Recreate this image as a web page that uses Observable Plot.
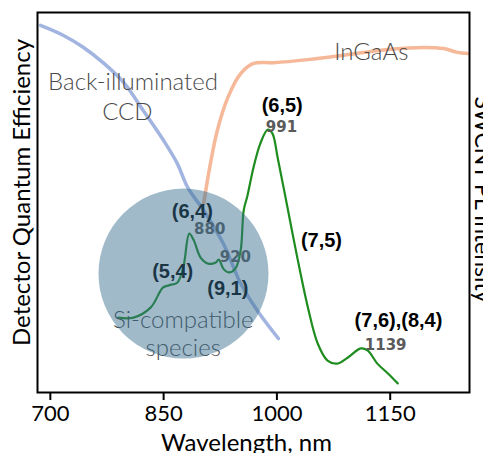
<!DOCTYPE html>
<html>
<head>
<meta charset="utf-8">
<script src="https://cdn.jsdelivr.net/npm/d3@7"></script>
<script src="https://cdn.jsdelivr.net/npm/@observablehq/plot@0.6"></script>
<style>
  html, body { margin: 0; padding: 0; background: white; }
</style>
</head>
<body>
<div id="chart"></div>
<script>
// Wavelength ticks
const xTicks = [700, 850, 1000, 1150];

// Back-illuminated CCD quantum efficiency (relative units)
const ccdWl  = [687, 718, 744, 771, 797, 823, 850, 868, 882, 903, 929, 952, 974, 1002];
const ccdQE  = [96.6, 93.9, 90.8, 86.6, 81.6, 74.2, 66.3, 60.3, 53.9, 47.9, 39.2, 28.7, 21.6, 14.2];

// InGaAs quantum efficiency
const ingaasWl = [903, 912, 921, 935, 952, 969, 996, 1041, 1075, 1115, 1150, 1194, 1221, 1239, 1252];
const ingaasQE = [49.7, 60.3, 68.9, 77.6, 83.9, 86.6, 86.8, 87.6, 88.4, 89.5, 90.3, 90.8, 90.5, 89.5, 89.2];

// SWCNT PL intensity
const plWl  = [790, 810, 833, 849, 857, 868, 876, 884, 890, 899, 909, 919, 923, 929, 936, 945, 952, 956, 961, 969, 978, 988, 994, 1001, 1014, 1027, 1041, 1054, 1067, 1080, 1094, 1111, 1120, 1133, 1147, 1160];
const plInt = [19.7, 19.7, 22.4, 27.6, 28.2, 28.9, 32.9, 41.8, 40.0, 35.5, 33.9, 34.2, 35.0, 32.6, 31.6, 32.6, 37.4, 47.9, 51.8, 59.2, 65.5, 69.2, 68.2, 61.8, 48.7, 35.5, 22.4, 12.9, 8.4, 7.6, 9.2, 11.6, 11.1, 7.6, 5.0, 2.4];

// Chirality labels
const chiralText = ["(6,4)", "(5,4)", "(9,1)", "(6,5)", "(7,5)", "(7,6),(8,4)"];
const chiralWl   = [888, 862, 935, 1007, 1059, 1161];
const chiralY    = [47.6, 31.8, 27.4, 75.5, 40.0, 18.9];

// Peak wavelength labels
const peakText = ["880", "920", "991", "1139"];
const peakWl   = [911, 945, 1006, 1144];
const peakY    = [42.9, 35.5, 69.7, 12.4];

// Detector labels
const detText = ["Back-illuminated", "CCD", "InGaAs", "Si-compatible", "species"];
const detWl   = [809.5, 802, 1125, 876, 876];
const detY    = [81.6, 73.7, 89.5, 18.9, 11.6];

// Highlight circle (Si-compatible region)
const circleWl = [876.3];
const circleY  = [31.3];

const ccd = ccdWl.map((w, i) => ({w, v: ccdQE[i]}));
const ingaas = ingaasWl.map((w, i) => ({w, v: ingaasQE[i]}));
const pl = plWl.map((w, i) => ({w, v: plInt[i]}));
const chiral = chiralText.map((t, i) => ({t, w: chiralWl[i], v: chiralY[i]}));
const peaks = peakText.map((t, i) => ({t, w: peakWl[i], v: peakY[i]}));
const dets = detText.map((t, i) => ({t, w: detWl[i], v: detY[i]}));
const circ = circleWl.map((w, i) => ({w, v: circleY[i]}));

const chart = Plot.plot({
  width: 483,
  height: 453,
  marginLeft: 37,
  marginRight: 14,
  marginTop: 12,
  marginBottom: 61,
  style: {fontFamily: "Lato", background: "white", color: "black"},
  x: {domain: [683, 1255]},
  y: {domain: [0, 100], axis: null},
  marks: [
    Plot.line(ccd, {x: "w", y: "v", stroke: "#a2b4e0", strokeWidth: 3.5, curve: "catmull-rom"}),
    Plot.line(ingaas, {x: "w", y: "v", stroke: "#f5b898", strokeWidth: 3.5, curve: "catmull-rom"}),
    Plot.line(pl, {x: "w", y: "v", stroke: "#1e8c1e", strokeWidth: 2.2, curve: "catmull-rom"}),
    Plot.text(dets, {x: "w", y: "v", text: "t", fontSize: 24, fontFamily: "Lato", fontWeight: 300, fill: "#4a4a4a"}),
    Plot.text(chiral, {x: "w", y: "v", text: "t", fontSize: 20, fontFamily: "Liberation Sans", fontWeight: "bold", fill: "black"}),
    Plot.text(peaks, {x: "w", y: "v", text: "t", fontSize: 15, fontFamily: "DejaVu Sans", fontWeight: "bold", fill: "#5a5a5a"}),
    Plot.dot(circ, {x: "w", y: "v", r: 85, fill: "#396f91", fillOpacity: 0.48, stroke: null}),
    Plot.frame({stroke: "black", strokeWidth: 2}),
    Plot.axisX({ticks: xTicks, tickFormat: d => String(d), tickSize: 8, tickPadding: 5, fontSize: 22, fontFamily: "Lato", strokeWidth: 2, label: null}),
    Plot.text(["Wavelength, nm"], {frameAnchor: "bottom", lineAnchor: "middle", textAnchor: "middle", dx: -7, dy: 51, fontSize: 24, fontFamily: "Lato", fill: "black"}),
    Plot.text(["Detector Quantum Efficiency"], {frameAnchor: "left", textAnchor: "middle", lineAnchor: "middle", dx: -15, dy: -10, rotate: -90, fontSize: 24, fontFamily: "Lato", fill: "black"}),
    Plot.text(["SWCNT PL Intensity"], {frameAnchor: "right", textAnchor: "middle", lineAnchor: "bottom", dx: 5, dy: -3, rotate: 90, fontSize: 23, fontFamily: "Lato", fill: "black"})
  ]
});
document.getElementById("chart").append(chart);
</script>
</body>
</html>
